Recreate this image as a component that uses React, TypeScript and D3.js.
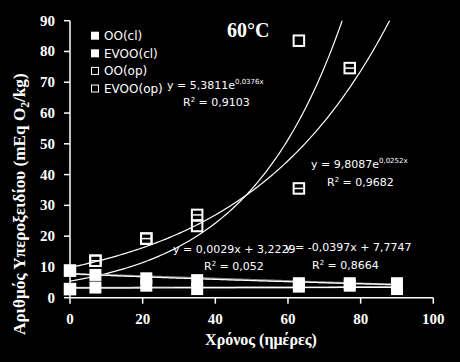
import React from 'react';
import * as d3 from 'd3';

// days of storage and peroxide values (mEq O2/kg)
const clDays = [0, 7, 21, 35, 63, 77, 90];
const ooCl = [2.8, 3.3, 3.9, 2.8, 3.6, 3.9, 2.8];
const evooCl = [8.8, 7.4, 6.3, 5.7, 4.7, 4.7, 4.7];
const ooOpDays = [0, 7, 21, 35, 63];
const ooOp = [2.8, 12.0, 19.2, 23.3, 83.5];
const evooOpDays = [0, 7, 21, 35, 63, 77];
const evooOp = [8.8, 12.0, 19.2, 26.9, 35.5, 74.6];

// trendline coefficients as printed on the chart
const ooOpExp = [5.3811, 0.0376];
const evooOpExp = [9.8087, 0.0252];
const ooClLin = [0.0029, 3.2229];
const evooClLin = [-0.0397, 7.7747];

const legendNames = ['OO(cl)', 'EVOO(cl)', 'OO(op)', 'EVOO(op)'];
const xTicks = [0, 20, 40, 60, 80, 100];
const yTicks = [0, 10, 20, 30, 40, 50, 60, 70, 80, 90];

const W = 460, H = 362;
const left = 70, right = 433.3, top = 20.7, bottom = 297.7;

const x = d3.scaleLinear().domain([0, 100]).range([left, right]);
const y = d3.scaleLinear().domain([0, 90]).range([bottom, top]);

const serif = '"Liberation Serif", "Times New Roman", serif';
const sans = '"DejaVu Sans", Verdana, sans-serif';

// log-linear least squares, used for the thin white curves on the cl series
const expFit = (xs: number[], ys: number[]) => {
  const ls = ys.map(v => Math.log(v));
  const mx = d3.mean(xs)!, ml = d3.mean(ls)!;
  const sxy = d3.sum(xs, (v, i) => (v - mx) * (ls[i] - ml));
  const sxx = d3.sum(xs, v => (v - mx) ** 2);
  const b = sxy / sxx;
  return [Math.exp(ml - b * mx), b];
};

const curve = (f: (t: number) => number, x0: number, x1: number) => {
  const pts = d3.range(x0, x1 + 0.01, 0.5).map(t => [x(t), y(f(t))] as [number, number]);
  return d3.line()(pts) || '';
};

const Eq = ({ px, py, main, sup, r2 }: { px: number; py: number; main: string; sup?: string; r2: [number, number, string] }) => (
  <g fill="#fff" fontFamily={sans}>
    <text x={px} y={py} fontSize={11}>
      {main}
      {sup && <tspan fontSize={7} dy={-5}>{sup}</tspan>}
    </text>
    <text x={r2[0]} y={r2[1]} fontSize={11}>
      R<tspan fontSize={7} dy={-4}>2</tspan><tspan dy={4}>{' = ' + r2[2]}</tspan>
    </text>
  </g>
);

export default function App() {
  const ooClExp = expFit(clDays, ooCl);
  const evooClExp = expFit(clDays, evooCl);
  const sq = 12, osq = 10.5;

  const filled = (xs: number[], ys: number[], key: string) =>
    xs.map((d, i) => (
      <rect key={key + i} x={x(d) - sq / 2} y={y(ys[i]) - sq / 2} width={sq} height={sq} fill="#fff" />
    ));

  const open = (xs: number[], ys: number[], key: string, bar: boolean) =>
    xs.map((d, i) => (
      <g key={key + i}>
        <rect x={x(d) - osq / 2} y={y(ys[i]) - osq / 2} width={osq} height={osq} fill="none" stroke="#fff" strokeWidth={2} />
        {bar && <line x1={x(d) - osq / 2} x2={x(d) + osq / 2} y1={y(ys[i])} y2={y(ys[i])} stroke="#fff" strokeWidth={1.5} />}
      </g>
    ));

  return (
    <div style={{ position: 'fixed', left: 0, top: 0, width: W, height: H, background: '#000' }}>
      <svg width={W} height={H} style={{ display: 'block' }}>
        <rect width={W} height={H} fill="#000" />
        <defs>
          <clipPath id="plotClip">
            <rect x={left} y={top} width={right - left} height={bottom - top} />
          </clipPath>
        </defs>

        {/* axes */}
        <line x1={left} x2={left} y1={top} y2={bottom} stroke="#fff" strokeWidth={1.5} />
        <line x1={left} x2={right} y1={bottom} y2={bottom} stroke="#fff" strokeWidth={1.5} />
        {yTicks.map(t => (
          <g key={'y' + t}>
            <line x1={left - 6} x2={left} y1={y(t)} y2={y(t)} stroke="#fff" strokeWidth={1.5} />
            <text x={55} y={y(t) + 5} textAnchor="end" fill="#fff" fontFamily={serif} fontWeight="bold" fontSize={15}>{t}</text>
          </g>
        ))}
        {xTicks.map(t => (
          <g key={'x' + t}>
            <line x1={x(t)} x2={x(t)} y1={bottom} y2={bottom + 6} stroke="#fff" strokeWidth={1.5} />
            <text x={x(t)} y={324} textAnchor="middle" fill="#fff" fontFamily={serif} fontWeight="bold" fontSize={15}>{t}</text>
          </g>
        ))}
        <text x={261} y={345} textAnchor="middle" fill="#fff" fontFamily={serif} fontWeight="bold" fontSize={16}>Χρόνος (ημέρες)</text>
        <text transform="translate(25,335) rotate(-90)" fill="#fff" fontFamily={serif} fontWeight="bold" fontSize={17.2}>
          Αριθμός Υπεροξειδίου (mEq O<tspan fontSize={11.5} dy={4}>2</tspan><tspan dy={-4}>/kg)</tspan>
        </text>

        <text x={227} y={37} fill="#fff" fontFamily={serif} fontWeight="bold" fontSize={20}>60°C</text>

        {/* trendlines */}
        <g clipPath="url(#plotClip)" fill="none">
          <path d={curve(t => ooOpExp[0] * Math.exp(ooOpExp[1] * t), 0, 100)} stroke="#fff" strokeWidth={1.2} />
          <path d={curve(t => evooOpExp[0] * Math.exp(evooOpExp[1] * t), 0, 100)} stroke="#fff" strokeWidth={1.2} />
          <path d={curve(t => ooClLin[0] * t + ooClLin[1], 0, 90)} stroke="#8a8a8a" strokeWidth={2} />
          <path d={curve(t => evooClLin[0] * t + evooClLin[1], 0, 90)} stroke="#8a8a8a" strokeWidth={2} />
          <path d={curve(t => ooClExp[0] * Math.exp(ooClExp[1] * t), 0, 90)} stroke="#fff" strokeWidth={1.2} />
          <path d={curve(t => evooClExp[0] * Math.exp(evooClExp[1] * t), 0, 90)} stroke="#fff" strokeWidth={1.2} />
        </g>

        {/* points */}
        {filled(clDays, ooCl, 'a')}
        {filled(clDays, evooCl, 'b')}
        {open(ooOpDays, ooOp, 'c', false)}
        {open(evooOpDays, evooOp, 'd', true)}

        {/* equations */}
        <Eq px={167} py={89} main="y = 5,3811e" sup="0,0376x" r2={[183, 106, '0,9103']} />
        <Eq px={311} py={168} main="y = 9,8087e" sup="0,0252x" r2={[327, 186, '0,9682']} />
        <Eq px={173} py={253} main="y = 0,0029x  + 3,2229" r2={[204, 270, '0,052']} />
        <Eq px={285} py={251} main="y = -0,0397x  + 7,7747" r2={[312, 268.5, '0,8664']} />

        {/* legend */}
        {legendNames.map((n, i) => {
          const cy = 35.7 + i * 17.6;
          return (
            <g key={n}>
              {i < 2
                ? <rect x={91} y={cy - 4} width={8} height={8} fill="#fff" />
                : <rect x={91.5} y={cy - 3.5} width={7} height={7} fill="none" stroke="#fff" strokeWidth={1} />}
              <text x={104} y={cy + 4.5} fill="#fff" fontFamily={sans} fontSize={12}>{n}</text>
            </g>
          );
        })}
      </svg>
    </div>
  );
}
